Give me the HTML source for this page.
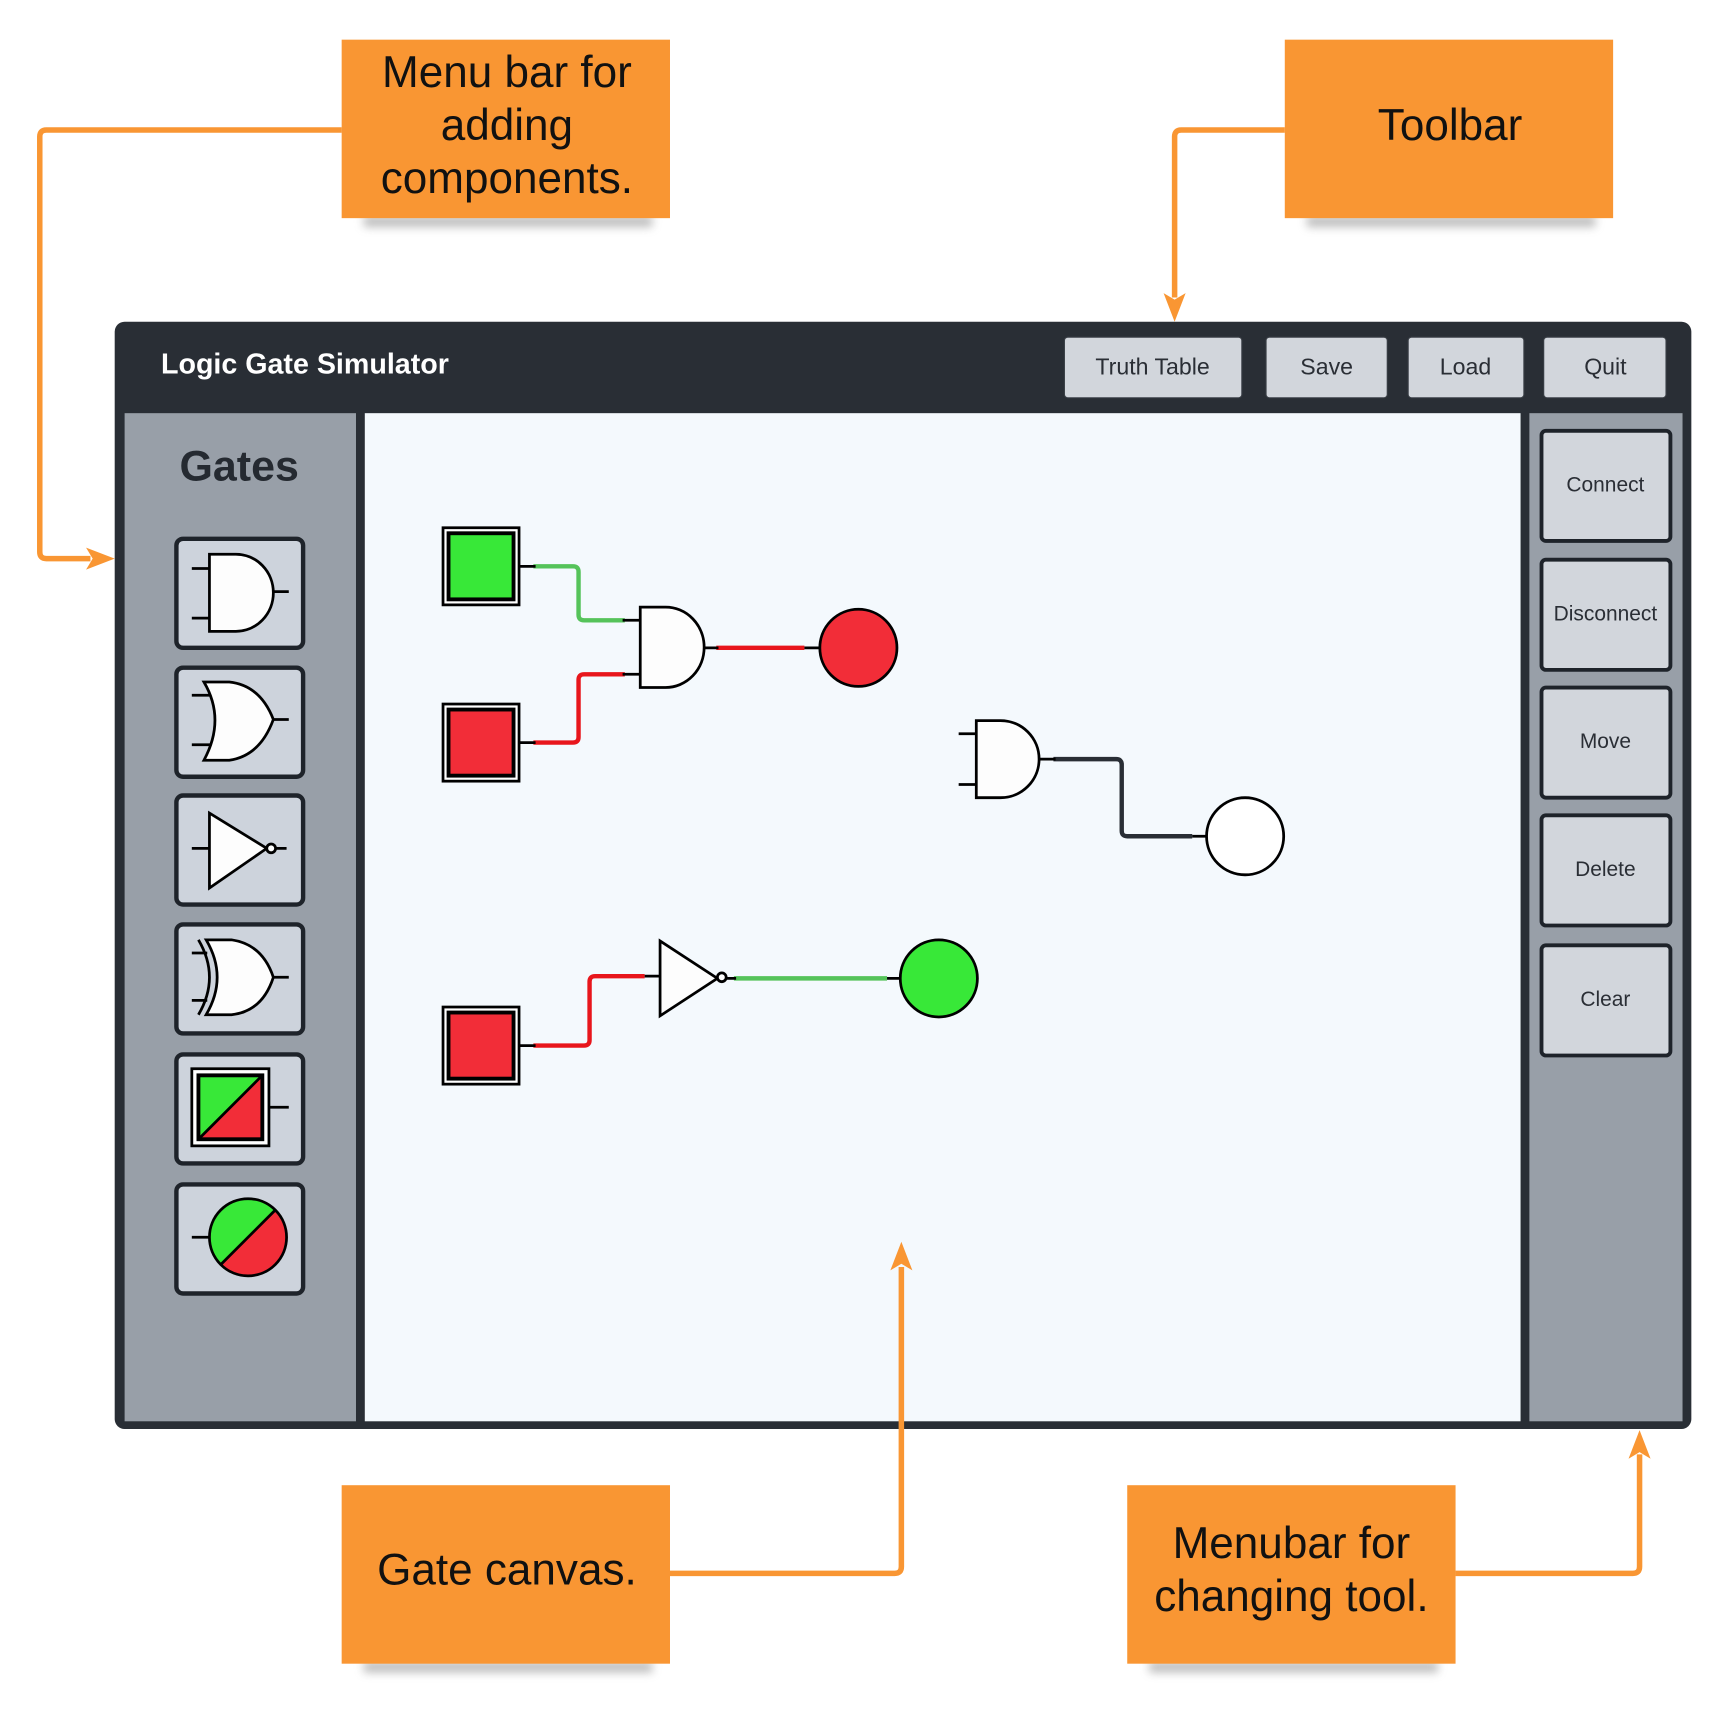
<!DOCTYPE html>
<html><head><meta charset="utf-8"><style>
html,body{margin:0;padding:0;background:#fff;}
svg{display:block;}
text{font-family:"Liberation Sans",Arial,sans-serif;}
</style></head><body>
<svg width="1719" height="1732" viewBox="0 0 1560 1572" xmlns="http://www.w3.org/2000/svg">
<defs>
<filter id="sh" x="-20%" y="-50%" width="140%" height="200%"><feGaussianBlur stdDeviation="4"/></filter>
</defs>
<rect width="1560" height="1572" fill="#fff"/>

<g fill="#888" opacity="0.55" filter="url(#sh)">
<rect x="330" y="196" width="262" height="10"/>
<rect x="1186" y="196" width="262" height="10"/>
<rect x="330" y="1508" width="262" height="10"/>
<rect x="1043" y="1508" width="262" height="10"/>
</g>
<g fill="#f99633">
<rect x="310" y="36" width="298" height="162"/>
<rect x="1166" y="36" width="298" height="162"/>
<rect x="310" y="1348" width="298" height="162"/>
<rect x="1023" y="1348" width="298" height="162"/>
</g>
<g font-size="40" fill="#111" text-anchor="middle">
<text x="460" y="79">Menu bar for</text>
<text x="460" y="127">adding</text>
<text x="460" y="175">components.</text>
<text x="1316" y="127">Toolbar</text>
<text x="460" y="1438">Gate canvas.</text>
<text x="1172" y="1414">Menubar for</text>
<text x="1172" y="1462">changing tool.</text>
</g>

<g fill="none" stroke="#f99633" stroke-width="5" stroke-linejoin="round">
<path d="M310 118 H42 Q36 118 36 124 V501 Q36 507 42 507 H82"/>
<path d="M1166 118 H1072 Q1066 118 1066 124 V270"/>
<path d="M1321 1428 H1482 Q1488 1428 1488 1422 V1320"/>
</g>
<g fill="#f99633">
<polygon points="104,507 78,497 84,507 78,517"/>
<polygon points="1066,292 1056,266 1066,272 1076,266"/>
<polygon points="1488,1298 1478,1324 1488,1318 1498,1324"/>
</g>

<rect x="104" y="292" width="1431" height="1005" rx="9" fill="#292e35"/>
<text x="146" y="339" font-size="26" font-weight="bold" fill="#fff">Logic Gate Simulator</text>
<g fill="#d2d6dc" stroke="#3a3f46" stroke-width="1">
<rect x="966" y="306" width="161" height="55" rx="3"/>
<rect x="1149" y="306" width="110" height="55" rx="3"/>
<rect x="1278" y="306" width="105" height="55" rx="3"/>
<rect x="1401" y="306" width="111" height="55" rx="3"/>
</g>
<g font-size="21" fill="#2a2e35" text-anchor="middle">
<text x="1046" y="340">Truth Table</text>
<text x="1204" y="340">Save</text>
<text x="1330" y="340">Load</text>
<text x="1457" y="340">Quit</text>
</g>

<rect x="113" y="375" width="210" height="915" fill="#989fa8"/>
<text x="217" y="436" font-size="39" font-weight="bold" fill="#252a31" text-anchor="middle">Gates</text>
<g fill="#cdd3dc" stroke="#1e232a" stroke-width="4">
<rect x="160" y="489" width="115" height="99" rx="6"/>
<rect x="160" y="606" width="115" height="99" rx="6"/>
<rect x="160" y="722" width="115" height="99" rx="6"/>
<rect x="160" y="839" width="115" height="99" rx="6"/>
<rect x="160" y="957" width="115" height="99" rx="6"/>
<rect x="160" y="1075" width="115" height="99" rx="6"/>
</g>
<g stroke="#000" stroke-width="2.5" fill="#fdfdfd">
<path d="M174 516 H190 M174 561 H190 M248 537 H262"/>
<path d="M190 503 H214 A34 35 0 0 1 214 573 H190 Z"/>
<path d="M174 631 H194 M174 676 H194 M248 653 H262"/>
<path d="M185 619 H208 Q236 622 248 653 Q236 686 208 690 H185 Q205 653 185 619 Z"/>
<path d="M174 770 H190 M250 770 H260"/>
<polygon points="190,738 190,806 242,770"/>
<circle cx="246" cy="770" r="4"/>
<path d="M174 865 H188 M174 908 H188 M248 887 H262"/>
<path d="M180 853 Q200 887 180 921" fill="none"/>
<path d="M187 853 H210 Q238 857 248 887 Q238 918 210 921 H187 Q207 887 187 853 Z"/>
<path d="M244 1005 H262"/>
<rect x="174" y="970" width="70" height="70" fill="#fff"/>
<polygon points="180,976 238,976 180,1034" fill="#38e838" stroke="none"/>
<polygon points="238,976 238,1034 180,1034" fill="#f22d38" stroke="none"/>
<rect x="180" y="976" width="58" height="58" fill="none" stroke-width="3.5"/>
<path d="M180 1034 L238 976"/>
<path d="M174 1123 H190"/>
<path d="M250 1098 A35 35 0 0 0 200 1148 Z" fill="#38e838" stroke="none"/>
<path d="M250 1098 A35 35 0 0 1 200 1148 Z" fill="#f22d38" stroke="none"/>
<circle cx="225" cy="1123" r="35" fill="none"/>
<path d="M200 1148 L250 1098"/>
</g>

<rect x="331" y="375" width="1049" height="915" fill="#f4f9fd"/>

<rect x="1388" y="375" width="139" height="915" fill="#989fa8"/>
<g fill="#d2d6dc" stroke="#1e232a" stroke-width="3.5">
<rect x="1399" y="391" width="117" height="100" rx="4"/>
<rect x="1399" y="508" width="117" height="100" rx="4"/>
<rect x="1399" y="624" width="117" height="100" rx="4"/>
<rect x="1399" y="740" width="117" height="100" rx="4"/>
<rect x="1399" y="858" width="117" height="100" rx="4"/>
</g>
<g font-size="19" fill="#2a2e35" text-anchor="middle">
<text x="1457" y="446">Connect</text>
<text x="1457" y="563">Disconnect</text>
<text x="1457" y="679">Move</text>
<text x="1457" y="795">Delete</text>
<text x="1457" y="913">Clear</text>
</g>

<g fill="none" stroke-width="4" stroke-linejoin="round">
<path d="M484 514 H520 Q525 514 525 519 V558 Q525 563 530 563 H567" stroke="#55c35a"/>
<path d="M484 674 H520 Q525 674 525 669 V617 Q525 612 530 612 H567" stroke="#e8161c"/>
<path d="M650 588 H730" stroke="#e8161c"/>
<path d="M956 689 H1013 Q1018 689 1018 694 V754 Q1018 759 1023 759 H1082" stroke="#292e35"/>
<path d="M484 949 H530 Q535 949 535 944 V891 Q535 886 540 886 H585" stroke="#e8161c"/>
<path d="M666 888 H805" stroke="#55c35a"/>
</g>
<g stroke="#000" stroke-width="2.5" fill="#fdfdfd">
<path d="M471 514 H486 M471 674 H486 M471 949 H486"/>
<path d="M565 563 H581 M565 612 H581 M638 588 H652"/>
<path d="M581 551 H604 A35 36.5 0 0 1 604 624 H581 Z"/>
<path d="M870 666 H886 M870 712 H886 M943 689 H958"/>
<path d="M886 654 H908 A35 35 0 0 1 908 724 H886 Z"/>
<path d="M585 886 H599 M659 888 H668"/>
<polygon points="599,854 599,922 651,888"/>
<circle cx="655" cy="887" r="4"/>
<path d="M730 588 H744 M805 888 H817 M1082 759 H1095"/>
</g>
<g stroke="#000">
<rect x="402" y="479" width="69" height="70" fill="#fff" stroke-width="2.5"/>
<rect x="407" y="484" width="59" height="60" fill="#38e838" stroke-width="3.5"/>
<rect x="402" y="639" width="69" height="70" fill="#fff" stroke-width="2.5"/>
<rect x="407" y="644" width="59" height="60" fill="#f22d38" stroke-width="3.5"/>
<rect x="402" y="914" width="69" height="70" fill="#fff" stroke-width="2.5"/>
<rect x="407" y="919" width="59" height="60" fill="#f22d38" stroke-width="3.5"/>
<circle cx="779" cy="588" r="35" fill="#f22d38" stroke-width="2.5"/>
<circle cx="1130" cy="759" r="35" fill="#fff" stroke-width="2.5"/>
<circle cx="852" cy="888" r="35" fill="#38e838" stroke-width="2.5"/>
</g>

<!-- gate canvas arrow on top -->
<path d="M608 1428 H812 Q818 1428 818 1422 V1150" fill="none" stroke="#f99633" stroke-width="5" stroke-linejoin="round"/>
<polygon points="818,1127 808,1153 818,1147 828,1153" fill="#f99633"/>
</svg>
</body></html>
